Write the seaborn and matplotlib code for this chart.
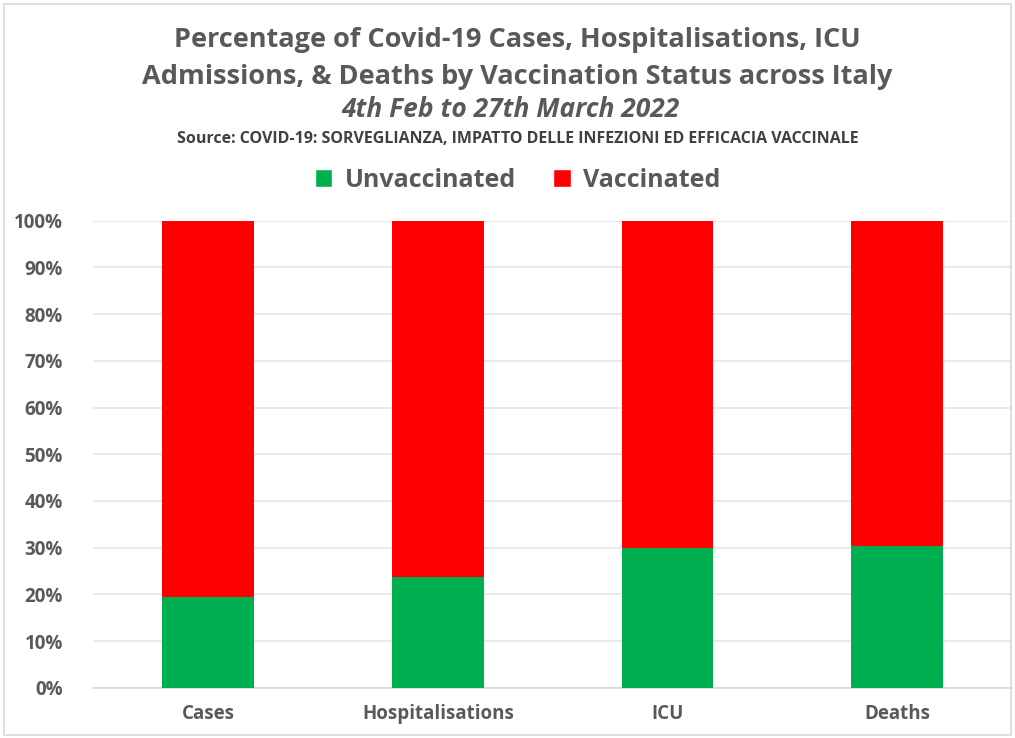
import numpy as np
import pandas as pd
import seaborn as sns
import matplotlib.pyplot as plt
from matplotlib.patches import Rectangle, Patch
from matplotlib.ticker import PercentFormatter

categories = ["Cases", "Hospitalisations", "ICU", "Deaths"]
unvaccinated = [19.4, 23.7, 30.0, 30.4]
vaccinated = [80.6, 76.3, 70.0, 69.6]

GREEN = "#00B050"
RED = "#FF0000"
GREY = "#595959"

sns.set_theme(style="white")
plt.rcParams["font.family"] = ["Open Sans", "DejaVu Sans"]

df = pd.DataFrame({"category": categories,
                   "unvaccinated": unvaccinated,
                   "vaccinated": vaccinated})
df["total"] = df["unvaccinated"] + df["vaccinated"]

fig = plt.figure(figsize=(10.15, 7.38), dpi=100)
ax = fig.add_axes([0.092, 0.068, 0.905, 0.633])

# stacked: draw total in red, then unvaccinated in green over it
sns.barplot(data=df, x="category", y="total", color=RED, width=0.4,
            saturation=1, linewidth=0, ax=ax, zorder=2)
sns.barplot(data=df, x="category", y="unvaccinated", color=GREEN, width=0.4,
            saturation=1, linewidth=0, ax=ax, zorder=3)

ax.set_ylim(0, 100)
ax.set_yticks(np.arange(0, 101, 10))
ax.yaxis.set_major_formatter(PercentFormatter(decimals=0))
ax.grid(axis="y", color="#E6E6E6", linewidth=1.2, zorder=0)
ax.set_axisbelow(True)
for s in ax.spines.values():
    s.set_visible(False)
ax.spines["bottom"].set_visible(True)
ax.spines["bottom"].set_color("#D9D9D9")
ax.set_xlabel("")
ax.set_ylabel("")
ax.tick_params(axis="both", length=0, labelsize=13.5, labelcolor=GREY)
ax.tick_params(axis="y", pad=22)
ax.tick_params(axis="x", pad=12)
for lbl in ax.get_xticklabels() + ax.get_yticklabels():
    lbl.set_fontweight("bold")

fig.text(0.51, 0.946, "Percentage of Covid-19 Cases, Hospitalisations, ICU",
         ha="center", va="center", fontsize=19.5, fontweight="bold", color=GREY)
fig.text(0.51, 0.896, "Admissions, & Deaths by Vaccination Status across Italy",
         ha="center", va="center", fontsize=19.5, fontweight="bold", color=GREY)
fig.text(0.503, 0.851, "4th Feb to 27th March 2022", ha="center", va="center",
         fontsize=19, fontweight="bold", fontstyle="italic", color=GREY)
fig.text(0.51, 0.811,
         "Source: COVID-19: SORVEGLIANZA, IMPATTO DELLE INFEZIONI ED EFFICACIA VACCINALE",
         ha="center", va="center", fontsize=11.5, fontweight="bold", color="#404040")

handles = [Patch(facecolor=GREEN, label="Unvaccinated"),
           Patch(facecolor=RED, label="Vaccinated")]
leg = fig.legend(handles=handles, loc="center", bbox_to_anchor=(0.51, 0.756), ncol=2,
                 frameon=False, handlelength=0.7, handleheight=0.7,
                 columnspacing=1.5, handletextpad=0.5,
                 prop={"size": 18, "weight": "bold"}, labelcolor=GREY)

fig.patches.append(Rectangle((0.004, 0.004), 0.992, 0.99, transform=fig.transFigure,
                             fill=False, edgecolor="#D9D9D9", linewidth=1.2))

fig.savefig("out.png", dpi=100)
